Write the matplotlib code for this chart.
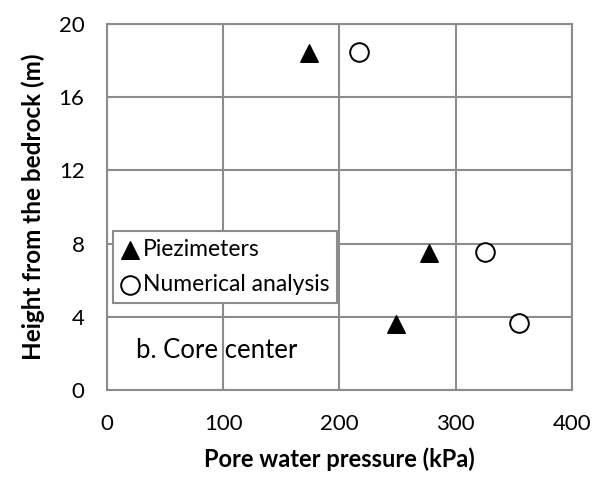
import matplotlib
matplotlib.use("Agg")
import matplotlib.pyplot as plt

plt.rcParams['font.family'] = ['Lato', 'DejaVu Sans']

pz_pressure = [174, 277, 249]
pz_height = [18.4, 7.5, 3.6]
num_pressure = [217, 325, 355]
num_height = [18.45, 7.55, 3.65]
x_ticks = [0, 100, 200, 300, 400]
y_ticks = [0, 4, 8, 12, 16, 20]

fig = plt.figure(figsize=(6.0, 4.79), dpi=100)
ax = fig.add_axes([0.178, 0.186, 0.775, 0.764])

grid_c = '#8c8c8c'
ax.set_xlim(0, 400)
ax.set_ylim(0, 20)
ax.set_xticks(x_ticks)
ax.set_yticks(y_ticks)
ax.grid(True, color=grid_c, linewidth=1.5)
ax.set_axisbelow(True)
for s in ax.spines.values():
    s.set_color(grid_c)
    s.set_linewidth(1.5)
ax.tick_params(length=0, labelsize=16)
ax.tick_params(axis='x', pad=17)
ax.tick_params(axis='y', pad=16)

ax.scatter(pz_pressure, pz_height, marker='^', s=160, color='black', label='Piezimeters', zorder=3)
ax.scatter(num_pressure, num_height, marker='o', s=180, facecolor='white', edgecolor='black',
           linewidths=1.4, label='Numerical analysis', zorder=3)

leg = ax.legend(loc='upper left', bbox_to_anchor=(0.013, 0.434), fontsize=16.5, frameon=True,
                fancybox=False, edgecolor=grid_c, framealpha=1, handletextpad=0.15,
                borderpad=0.35, handlelength=0.8, labelspacing=0.6, borderaxespad=0)
leg.get_frame().set_linewidth(1.5)

ax.text(0.0625, 0.109, 'b. Core center', transform=ax.transAxes, fontsize=18.5, va='center', ha='left')

ax.set_xlabel('Pore water pressure (kPa)', fontsize=17, fontweight='bold', labelpad=10)
ax.set_ylabel('Height from the bedrock (m)', fontsize=17.5, fontweight='bold', labelpad=10)

fig.savefig('out.png', dpi=100)
